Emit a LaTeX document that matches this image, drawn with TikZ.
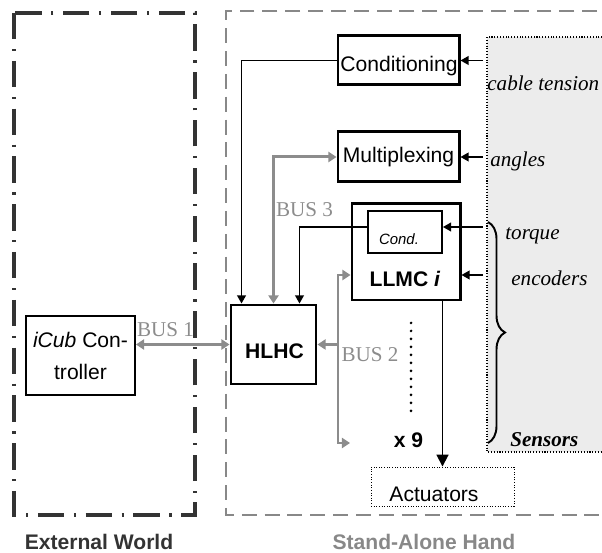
\documentclass[tikz,border=0pt]{standalone}
\usepackage{fontspec}
\setmainfont{Liberation Sans}
\newfontfamily\timesfont{Liberation Serif}
\usetikzlibrary{arrows.meta,decorations.pathreplacing}

\definecolor{busgray}{RGB}{140,140,140}
\definecolor{framedark}{RGB}{51,51,51}
\definecolor{framegray}{RGB}{136,136,136}
\definecolor{sensorfill}{RGB}{236,236,236}

\begin{document}
\begin{tikzpicture}[
    font=\fontsize{12}{14}\selectfont,
    bigbox/.style={draw, line width=1.7pt, inner sep=0pt},
    smallbox/.style={draw, line width=1.1pt, inner sep=0pt},
    wire/.style={line width=0.75pt, >={Triangle[width=5pt,length=4.6pt]}},
    bus/.style={draw=busgray, line width=1.7pt, >={Triangle[width=5.7pt,length=4.6pt]}},
    buslabel/.style={text=busgray, font=\timesfont\fontsize{12}{14}\selectfont, anchor=base},
    signal/.style={font=\timesfont\itshape\fontsize{12}{14}\selectfont, anchor=base west, inner sep=0pt}
  ]
  \useasboundingbox (0,0) rectangle (12.040000,11.060000);
  {

  % Sensor area, shaded and open to the right
  \fill [sensorfill] (9.740000,10.320000) rectangle (12.100000,2.020000);%
  \draw [line width=0.6pt, densely dotted] (12.100000,10.320000) -- (9.740000,10.320000) -- (9.740000,2.020000) -- (12.100000,2.020000);%

  % Frame of the external world
  \draw [framedark, line width=1.8pt, dash pattern=on 15pt off 5.5pt on 1.2pt off 5.5pt] (0.280000,10.800000) rectangle (3.900000,0.760000);%
  \node [text=framedark, font=\bfseries\fontsize{12}{14}\selectfont, anchor=base] (extw) at (1.980000,0.060000) {External World};%

  % Frame of the hand, open to the right
  \draw [framegray, line width=1.6pt, dash pattern=on 8.5pt off 4.5pt] (12.400000,10.840000) -- (4.520000,10.840000) -- (4.520000,0.760000) -- (12.400000,0.760000);%
  \node [text=framegray, font=\bfseries\fontsize{12}{14}\selectfont, anchor=base] (hand) at (8.480000,0.060000) {Stand-Alone Hand};%

  % Boxes
  \node [smallbox, minimum width=2.18cm, minimum height=1.58cm, align=center, font=\fontsize{12}{18.2}\selectfont] (icub) at (1.610000,3.950000) {{\itshape iCub} Con-\\troller};%
  \node [bigbox, minimum width=1.70cm, minimum height=1.58cm] (hlhc) at (5.470000,4.170000) {};%
  \node [font=\bfseries\fontsize{12}{14}\selectfont, anchor=base] (hlhctxt) at (5.490000,3.880000) {HLHC};%
  \node [bigbox, minimum width=2.42cm, minimum height=0.98cm] (condg) at (7.970000,9.850000) {};%
  \node [anchor=base] (condgtxt) at (7.980000,9.620000) {Conditioning};%
  \node [bigbox, minimum width=2.42cm, minimum height=1.00cm] (mplx) at (7.970000,7.920000) {Multiplexing};%
  \node [bigbox, minimum width=2.16cm, minimum height=1.92cm] (llmc) at (8.120000,6.020000) {};%
  \node [font=\bfseries\fontsize{12}{14}\selectfont, anchor=base] (llmctxt) at (8.100000,5.320000) {LLMC \textit{i}};%
  \node [smallbox, minimum width=1.48cm, minimum height=0.84cm] (cnd) at (8.100000,6.420000) {};%
  \node [font=\itshape\fontsize{8.5}{10}\selectfont, anchor=base] (cndtxt) at (7.980000,6.160000) {Cond.};%
  \node [draw, line width=0.5pt, densely dotted, minimum width=2.86cm, minimum height=0.78cm, inner sep=0pt] (act) at (8.850000,1.330000) {};%
  \node [anchor=base] (acttxt) at (8.680000,1.020000) {Actuators};%

  % Free ends on the sensor side and on bus 2
  \coordinate (ctens) at (9.660000,9.850000);%
  \coordinate (angl) at (9.660000,7.920000);%
  \coordinate (trq) at (9.660000,6.520000);%
  \coordinate (enc) at (9.660000,5.560000);%
  \coordinate (btwotop) at (6.760000,5.560000);%
  \coordinate (btwobot) at (6.760000,2.200000);%
  \coordinate (btwoend) at (7.000000,2.200000);%

  % Sensor signals
  \draw [wire, ->] (ctens) -- (condg.east);%
  \draw [wire, ->] (angl) -- (mplx.east);%
  \draw [wire, ->] (trq) -- (trq -| cnd.east);%
  \draw [wire, ->] (enc) -- (enc -| llmc.east);%
  \node [signal] (lbltens) at (9.740000,9.240000) {cable tension};%
  \node [signal] (lblangl) at (9.800000,7.720000) {angles};%
  \node [signal] (lbltrq) at (10.100000,6.260000) {torque};%
  \node [signal] (lblenc) at (10.220000,5.340000) {encoders};%
  \node [signal, font=\timesfont\bfseries\itshape\fontsize{12}{14}\selectfont] (lblsens) at (10.200000,2.120000) {Sensors};%
  \draw [line width=1.1pt, decorate, decoration={brace, amplitude=0.34cm, aspect=0.5}] (9.760000,6.620000) -- (9.760000,2.200000);%

  % Conditioned signals down to HLHC
  \draw [wire, ->] (condg.west) -| ([xshift=0.24cm]hlhc.north west);%
  \draw [wire, ->] (trq -| cnd.west) -| ([xshift=-0.36cm]hlhc.north east);%

  % Bus 1
  \draw [bus, <->] (icub.east |- hlhc.west) -- (hlhc.west);%
  \node [buslabel] (lblbone) at (3.310000,4.320000) {BUS 1};%

  % Bus 3
  \draw [bus, <->] (hlhc.north) |- (mplx.west);%
  \node [buslabel] (lblbthree) at (6.090000,6.720000) {BUS 3};%

  % Bus 2
  \draw [bus, <->] (btwoend) -- (btwobot) -- (btwotop) -- (btwotop -| llmc.west);%
  \draw [bus, ->] (btwobot |- hlhc.east) -- (hlhc.east);%
  \node [buslabel] (lblbtwo) at (7.400000,3.820000) {BUS 2};%

  % Further LLMC boards
  \draw [line width=1.7pt, line cap=round, dash pattern=on 0pt off 4.55pt] (8.220000,4.600000) -- (8.220000,2.800000);%
  \node [font=\bfseries\fontsize{12}{14}\selectfont, anchor=base] (times) at (8.170000,2.100000) {x 9};%

  % LLMC to actuators
  \draw [line width=1pt, -{Triangle[width=6.8pt,length=6.8pt]}] (act.north |- llmc.south) -- (act.north);%
  }
\end{tikzpicture}
\end{document}
